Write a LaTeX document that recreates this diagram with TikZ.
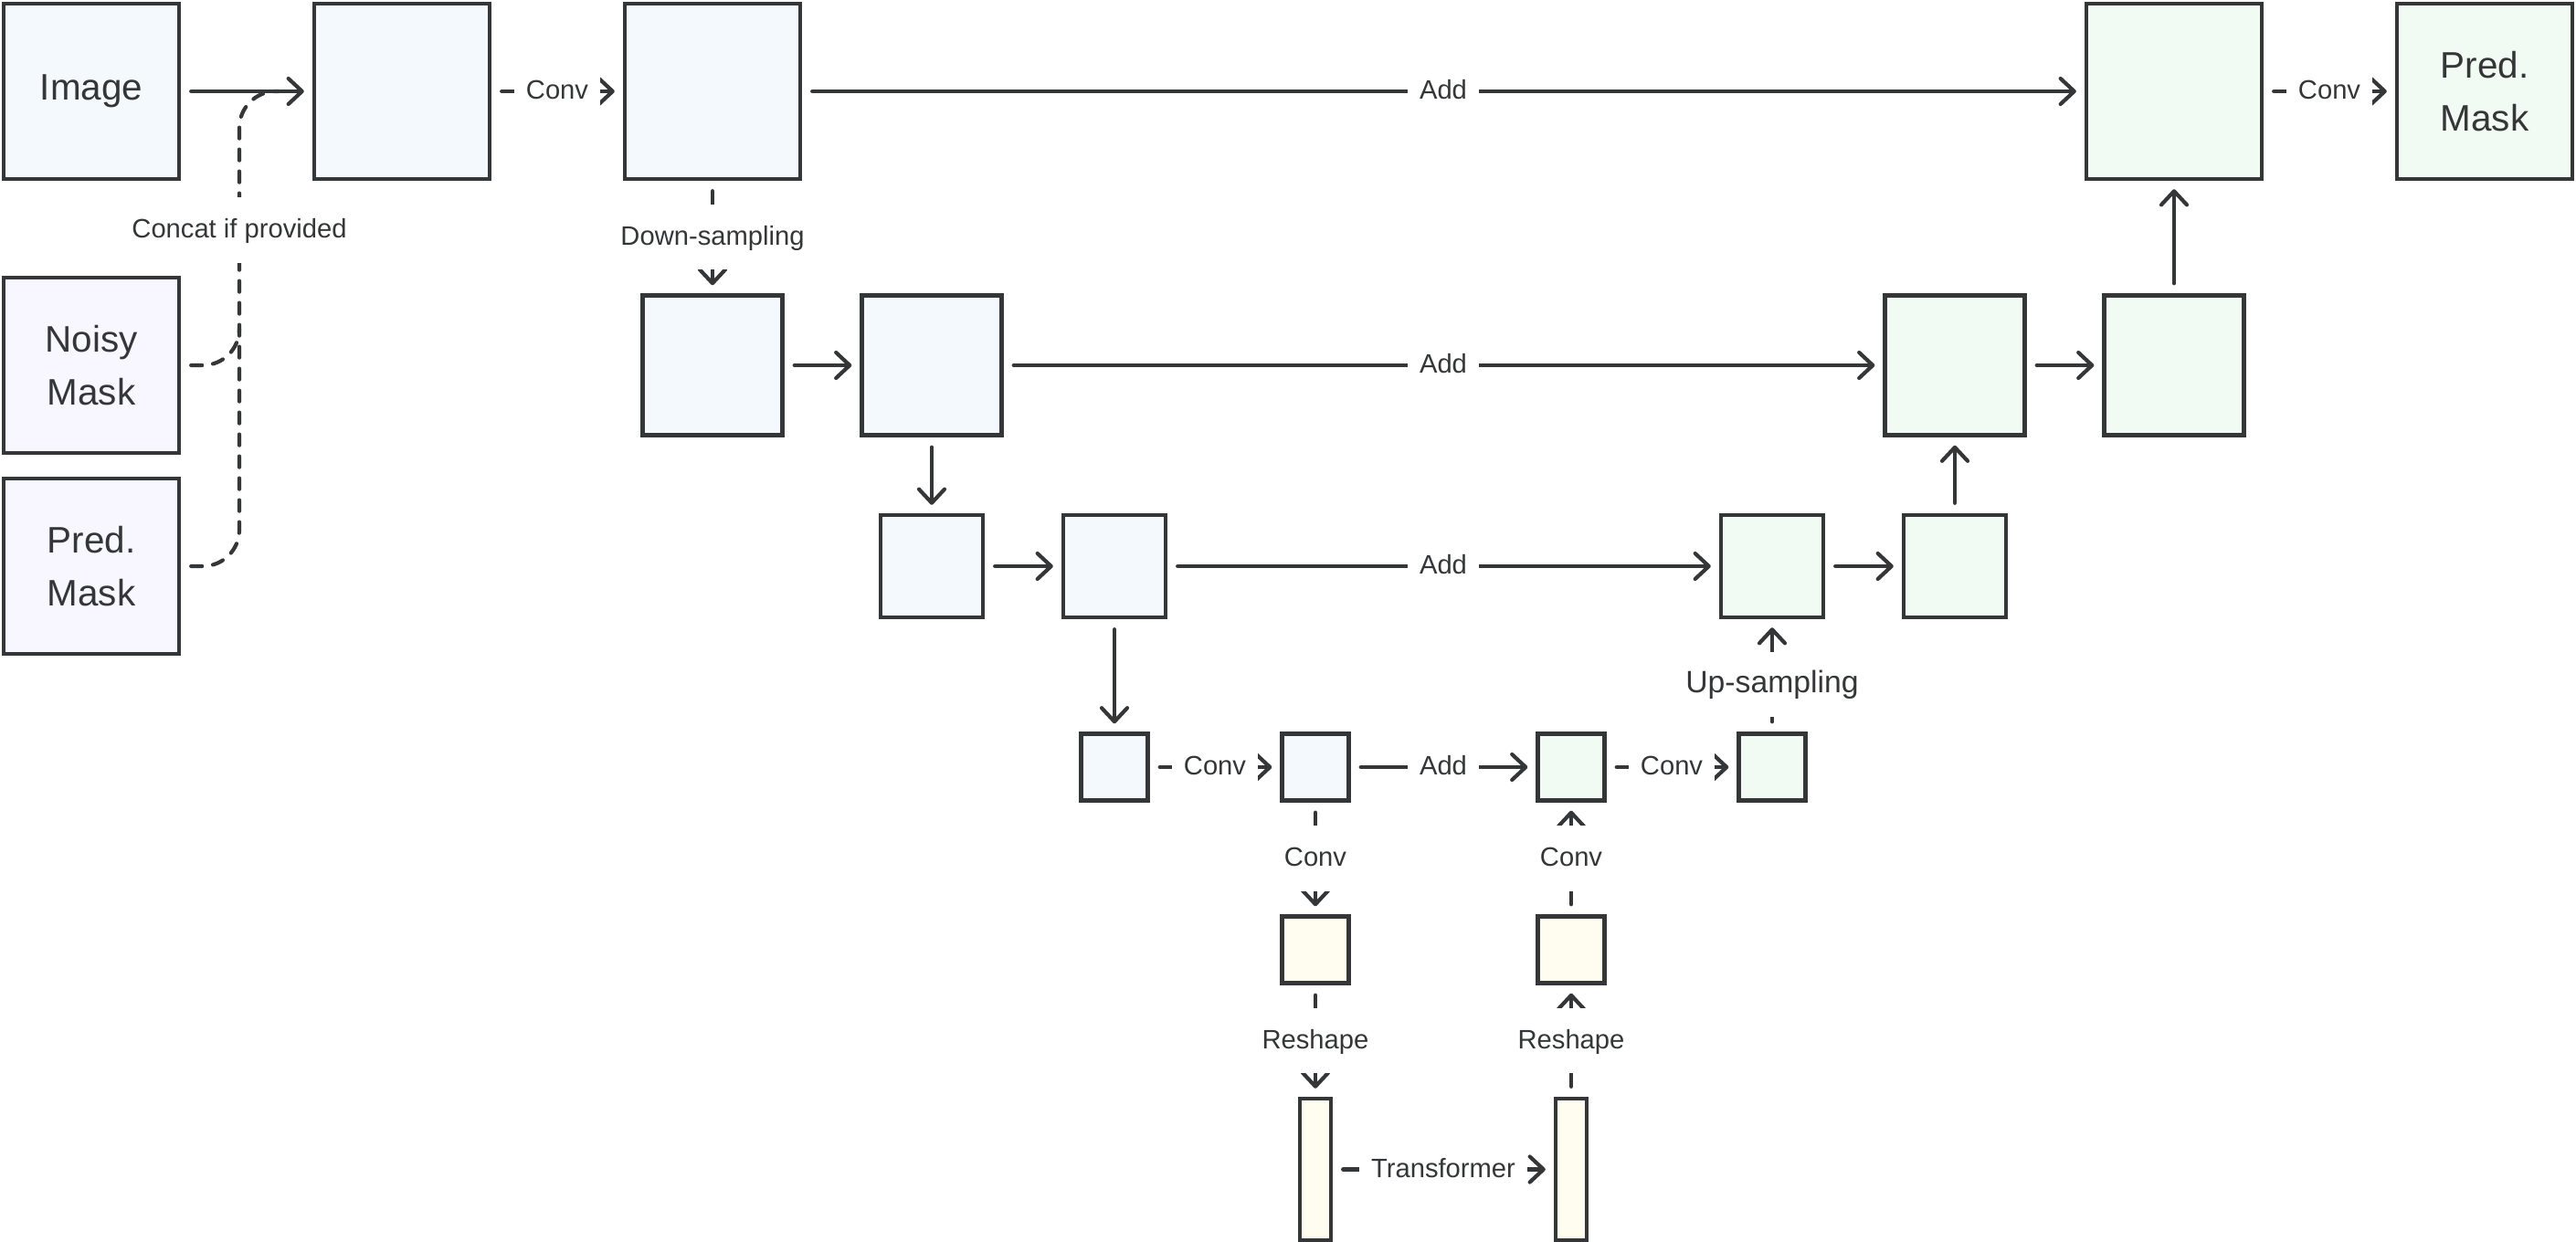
\documentclass[tikz,border=0pt]{standalone}
\usepackage{fontspec}
\setmainfont{Liberation Sans}
\usetikzlibrary{arrows.meta}
\definecolor{ink}{HTML}{343638}
\definecolor{encfill}{HTML}{F4F9FE}
\definecolor{maskfill}{HTML}{F8F6FE}
\definecolor{decfill}{HTML}{F1FBF3}
\definecolor{tokfill}{HTML}{FFFCF0}

\tikzset{
  >={Straight Barb[length=1.5mm,width=2.8mm,round]},
  blk/.style={draw=ink, line width=.44mm, inner sep=0pt, minimum width=#1, minimum height=#1},
  blkbig/.style={blk=1.92cm},
  blkmid/.style={blk=1.53cm},
  blksml/.style={blk=1.12cm},
  blktny/.style={blk=.73cm},
  blkbar/.style={draw=ink, line width=.44mm, inner sep=0pt, minimum width=.34cm, minimum height=1.55cm},
  enc/.style={fill=encfill}, dec/.style={fill=decfill},
  msk/.style={fill=maskfill}, tok/.style={fill=tokfill},
  boxtext/.style={text=ink, align=center, font=\fontsize{11.5}{16.5}\selectfont},
  conn/.style={->, draw=ink, line width=.42mm, line cap=round, shorten <=1.1mm, shorten >=.9mm},
  concat/.style={draw=ink, line width=.42mm, line cap=round, dash pattern=on 1.2mm off 1.2mm, rounded corners=4mm},
  lbl/.style={fill=white, text=ink, inner xsep=1.3mm, inner ysep=1.9mm, text height=.72em, text depth=.22em, font=\fontsize{8.3}{10}\selectfont},
  uplbl/.style={lbl, font=\fontsize{9.6}{12}\selectfont},
}

\begin{document}
\begin{tikzpicture}
  \useasboundingbox (0,0) rectangle (28.2,-13.6);

  % inputs
  \node (image) [blkbig, enc, boxtext] at (1.00,-1.00) {Image};
  \node (noisy) [blkbig, msk, boxtext] at (1.00,-4.00) {Noisy\\Mask};
  \node (prev)  [blkbig, msk, boxtext] at (1.00,-6.20) {Pred.\\Mask};

  % encoder
  \node (in1)   [blkbig, enc] at (4.40,-1.00) {};
  \node (enc1)  [blkbig, enc] at (7.80,-1.00) {};
  \node (enc2a) [blkmid, enc] at (7.80,-4.00) {};
  \node (enc2b) [blkmid, enc] at (10.20,-4.00) {};
  \node (enc3a) [blksml, enc] at (10.20,-6.20) {};
  \node (enc3b) [blksml, enc] at (12.20,-6.20) {};
  \node (enc4a) [blktny, enc] at (12.20,-8.40) {};
  \node (enc4b) [blktny, enc] at (14.40,-8.40) {};

  % bottleneck
  \node (mid1) [blktny, tok] at (14.40,-10.40) {};
  \node (mid2) [blktny, tok] at (17.20,-10.40) {};
  \node (seq1) [blkbar, tok] at (14.40,-12.805) {};
  \node (seq2) [blkbar, tok] at (17.20,-12.805) {};

  % decoder
  \node (dec4a) [blktny, dec] at (17.20,-8.40) {};
  \node (dec4b) [blktny, dec] at (19.40,-8.40) {};
  \node (dec3a) [blksml, dec] at (19.40,-6.20) {};
  \node (dec3b) [blksml, dec] at (21.40,-6.20) {};
  \node (dec2a) [blkmid, dec] at (21.40,-4.00) {};
  \node (dec2b) [blkmid, dec] at (23.80,-4.00) {};
  \node (dec1)  [blkbig, dec] at (23.80,-1.00) {};
  \node (out)   [blkbig, dec, boxtext] at (27.20,-1.00) {Pred.\\Mask};

  \path[conn]
    (image) edge (in1)
    (in1) edge node [lbl] {Conv} (enc1)
    (enc1) edge node [lbl] {Add} (dec1)
           edge node [lbl] {Down-sampling} (enc2a)
    (dec1) edge node [lbl] {Conv} (out)
    (enc2a) edge (enc2b)
    (enc2b) edge node [lbl] {Add} (dec2a)
            edge (enc3a)
    (dec2a) edge (dec2b)
    (dec2b) edge (dec1)
    (enc3a) edge (enc3b)
    (enc3b) edge node [lbl] {Add} (dec3a)
            edge (enc4a)
    (dec3a) edge (dec3b)
    (dec3b) edge (dec2a)
    (enc4a) edge node [lbl] {Conv} (enc4b)
    (enc4b) edge node [lbl] {Add} (dec4a)
            edge node [lbl] {Conv} (mid1)
    (dec4a) edge node [lbl] {Conv} (dec4b)
    (dec4b) edge node [uplbl, pos=.42] {Up-sampling} (dec3a)
    (mid1) edge node [lbl] {Reshape} (seq1)
    (seq1) edge node [lbl] {Transformer} (seq2)
    (seq2) edge node [lbl] {Reshape} (mid2)
    (mid2) edge node [lbl] {Conv} (dec4a);

  % optional masks
  \coordinate (spine) at (2.62,-4.00);
  \coordinate (merge) at (3.05,-1.00);
  \draw[concat] ([xshift=1.1mm]prev.east) -| (spine) |- (merge);
  \draw[concat] ([xshift=1.1mm]noisy.east) -| ([yshift=4mm]spine);
  \node (cif) [lbl] at (2.62,-2.52) {Concat if provided};
\end{tikzpicture}
\end{document}
